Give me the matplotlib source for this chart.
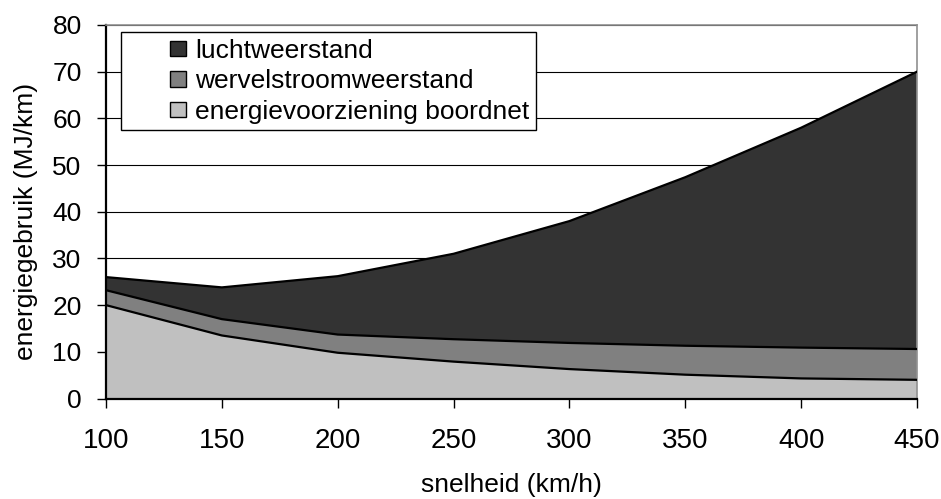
import matplotlib.pyplot as plt
from matplotlib.legend_handler import HandlerPatch
import numpy as np

plt.rcParams['font.family'] = ['Liberation Sans', 'DejaVu Sans']

snelheid = [100, 150, 200, 250, 300, 350, 400, 450]
boordnet = [20.0, 13.5, 9.8, 7.9, 6.3, 5.1, 4.3, 4.0]
wervelstroom = [3.2, 3.5, 3.9, 4.8, 5.6, 6.2, 6.6, 6.6]
lucht = [2.8, 6.8, 12.5, 18.3, 26.1, 36.1, 47.1, 59.4]

labels = ["energievoorziening boordnet", "wervelstroomweerstand", "luchtweerstand"]
colors = ["#c0c0c0", "#808080", "#333333"]

W, H = 941, 499
fig = plt.figure(figsize=(W / 100, H / 100), dpi=100)
ax = fig.add_axes([106 / W, 1 - 398.5 / H, 811 / W, 373.5 / H])

x = np.array(snelheid)
bottom = np.zeros(len(x))
for vals, lab, col in zip([boordnet, wervelstroom, lucht], labels, colors):
    top = bottom + np.array(vals)
    ax.fill_between(x, bottom, top, facecolor=col, edgecolor="none", zorder=2)
    ax.plot(x, top, color="black", lw=1.6, zorder=3)
    bottom = top

ax.set_xlim(100, 450)
ax.set_ylim(0, 80)
ax.set_xticks(snelheid)
ax.set_yticks(range(0, 81, 10))
ax.yaxis.grid(True, color="black", lw=0.8, zorder=1)
ax.set_axisbelow(True)

for s in ["top", "right"]:
    ax.spines[s].set_color("#909090")
    ax.spines[s].set_linewidth(1.2)
for s in ["left", "bottom"]:
    ax.spines[s].set_color("black")
    ax.spines[s].set_linewidth(1.6)

ax.tick_params(axis="both", direction="out", length=6.5, width=1.0, colors="black")
ax.tick_params(axis="x", pad=15, labelsize=20)
ax.tick_params(axis="y", pad=11, labelsize=19)
ax.set_xlabel("snelheid (km/h)", fontsize=19)
ax.set_ylabel("energiegebruik (MJ/km)", fontsize=19)
ax.xaxis.set_label_coords(0.5, (398.5 - 473) / 373.5)
ax.yaxis.set_label_coords((38 - 106) / 811, (398.5 - 221.5) / 373.5)


def small_square(legend, orig_handle, xdescent, ydescent, width, height, fontsize):
    s = 11.0
    return plt.Rectangle((width - s - xdescent, (height - s) / 2 - ydescent), s, s)


sq = [plt.Rectangle((0, 0), 1, 1, facecolor=c, edgecolor="black", lw=1.0) for c in colors]
leg = ax.legend(sq[::-1], labels[::-1], loc="upper left",
                bbox_to_anchor=(121 / W, 1 - 32 / H), bbox_transform=fig.transFigure,
                fontsize=19, frameon=True, fancybox=False, framealpha=1, edgecolor="black",
                handlelength=2.2, handleheight=0.7, handletextpad=0.35, borderpad=0.25,
                labelspacing=0.25, borderaxespad=0,
                handler_map={plt.Rectangle: HandlerPatch(patch_func=small_square)})
leg.get_frame().set_linewidth(1.0)
leg.set_zorder(5)

fig.savefig("out.png", dpi=100)
